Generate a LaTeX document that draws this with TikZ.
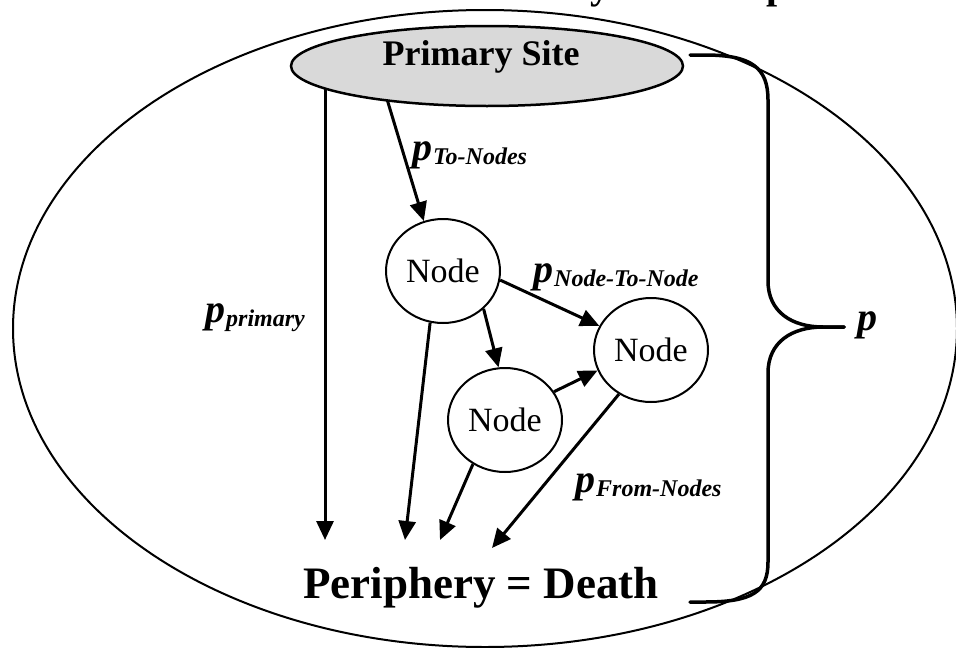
\documentclass[tikz,border=0pt]{standalone}
\usepackage{fontspec}
\setmainfont{Liberation Serif}
\usetikzlibrary{arrows.meta,shapes.geometric,calc,backgrounds}

% probability label: bold italic p with a lowered bold italic subscript
\newcommand{\problabel}[1]{{\fontsize{40}{40}\selectfont\bfseries\itshape p}\kern1pt\raisebox{-4pt}{\fontsize{24}{24}\selectfont\bfseries\itshape #1}}

\begin{document}
\begin{tikzpicture}[x=1pt,y=-1pt,
  site/.style={ellipse, draw, line width=2.5pt, fill=black!15,
    minimum width=392pt, minimum height=80pt, inner sep=0pt},
  lymph/.style={ellipse, draw, line width=2pt, fill=white,
    minimum width=114pt, minimum height=104pt, inner sep=0pt,
    font=\fontsize{34}{34}\selectfont},
  flow/.style={line width=3pt, -{Triangle[length=19pt,width=17pt]}},
  plab/.style={anchor=base west, inner sep=0pt},
  brace/.style={line width=3.5pt, line cap=round, line join=round},
  ]
\useasboundingbox (0,0) rectangle (956,648);

% descenders of the heading line above the frame
\begin{scope}
  \clip (0,0) rectangle (956,648);
  \node[anchor=base west, inner sep=0pt, font=\fontsize{40}{40}\selectfont\bfseries] (ttl-y) at (590,-1.5) {y};
  \node[anchor=base west, inner sep=0pt, font=\fontsize{40}{40}\selectfont\bfseries] (ttl-p) at (766,-1.5) {p};
\end{scope}

% primary tumour site
\node[site] (primary) at (487,66) {};
\node[anchor=base, inner sep=0pt, font=\fontsize{36}{36}\selectfont\bfseries] (sitetext) at (481,65) {Primary Site};

% lymph nodes
\node[lymph] (n1) at (443,271) {Node};
\node[lymph] (n2) at (651,350) {Node};
\node[lymph] (n3) at (505,420) {Node};

% outcome
\node[anchor=base, inner sep=0pt, font=\fontsize{45}{45}\selectfont\bfseries] (death) at (481,598) {Periphery = Death};
\coordinate (d1) at (325,540);
\coordinate (d2) at (405,540);
\coordinate (d3) at (440,540);
\coordinate (d4) at (492,548);

% transition probabilities
\node[plab] (lprim) at (205,322) {\problabel{primary}};
\node[plab] (lto)   at (412,160) {\problabel{To-Nodes}};
\node[plab] (lnn)   at (533,282) {\problabel{Node-To-Node}};
\node[plab] (lfrom) at (575,492) {\problabel{From-Nodes}};
\node[plab] (ltot)  at (857,330) {{\fontsize{40}{40}\selectfont\bfseries\itshape p}};

\begin{pgfonlayer}{background}
  % whole-body outline
  \draw[line width=2pt] (485,328.5) ellipse [x radius=472, y radius=318.5];
  % arrows leaving the primary site (starts hidden under its fill)
  \draw[flow] ($(primary.center)+(-162,0)$) -- (d1);
  \draw[flow] ($(primary.center)+(-110,0)$) -- (n1.111);
  % node-to-node spread
  \draw[flow] (n1.-9) -- (n2.155);
  \draw[flow] (n1.-43) -- (n3.97);
  \draw[flow] (n3.30) -- (n2.201);
  % spread to the periphery
  \draw[flow] (n1.256) -- (d2);
  \draw[flow] (n3.234) -- (d3);
  \draw[flow] (n2.234) -- (d4);
\end{pgfonlayer}

% brace collecting all routes into p
\draw[brace] (690,55) -- (705,55)
  .. controls (752,55) and (768,68) .. (768,100) -- (768,281)
  .. controls (768,312) and (792,327) .. (823,327) -- (844,327);
\draw[brace] (844,327) -- (823,327)
  .. controls (792,327) and (768,342) .. (768,373) -- (768,562)
  .. controls (768,592) and (752,602) .. (705,602) -- (690,602);
\end{tikzpicture}
\end{document}
